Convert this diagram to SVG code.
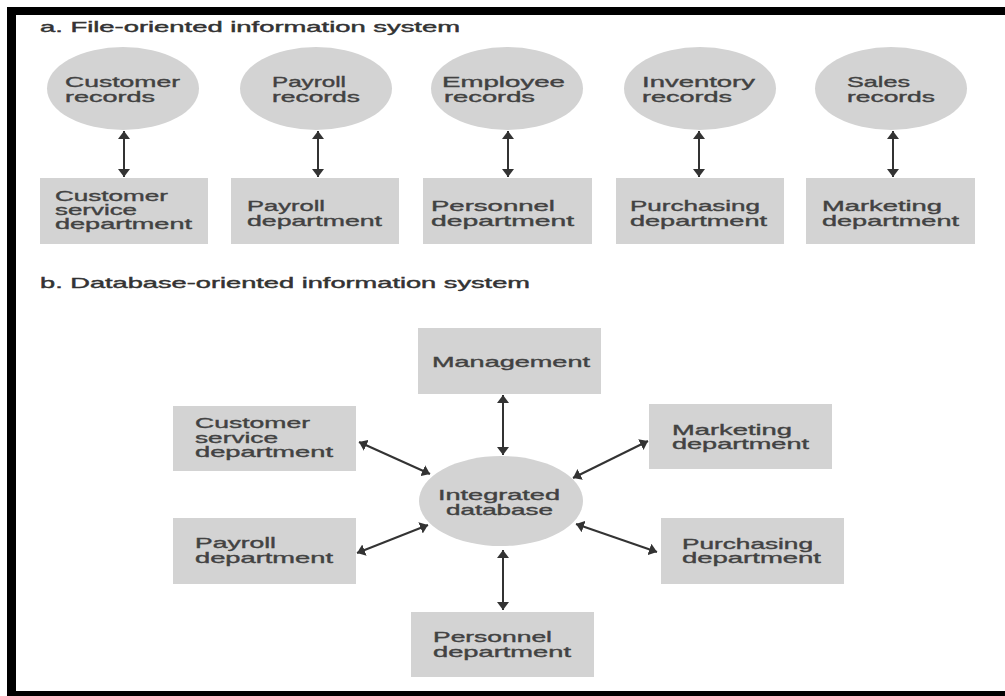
<svg xmlns="http://www.w3.org/2000/svg" width="1005" height="696" viewBox="0 0 1005 696">
<style>
.shape{fill:#d3d3d3;stroke:none}
.t{font-family:"Liberation Sans",Arial,sans-serif;font-size:14.5px;fill:#424242;stroke:#424242;stroke-width:0.35}
.title{font-family:"Liberation Sans",Arial,sans-serif;font-size:14.5px;fill:#333;stroke:#333;stroke-width:0.4}
.conn{stroke:#333;stroke-width:2;fill:none;marker-start:url(#ah);marker-end:url(#ah)}
</style>
<defs>
<marker id="ah" viewBox="0 0 8 12" refX="8" refY="6" markerWidth="8" markerHeight="12" markerUnits="userSpaceOnUse" orient="auto-start-reverse">
<path d="M0,0 L8,6 L0,12 z" fill="#333"/>
</marker>
</defs>
<rect x="0" y="0" width="1005" height="696" fill="#fff"/>
<g id="frame" fill="#000">
<rect x="7" y="7" width="9" height="689"/>
<rect x="7" y="7" width="998" height="8"/>
<rect x="7" y="691" width="998" height="5"/>
</g>
<text class="title" x="40" y="32" textLength="420" lengthAdjust="spacingAndGlyphs">a. File-oriented information system</text>
<text class="title" x="40" y="288" textLength="490" lengthAdjust="spacingAndGlyphs">b. Database-oriented information system</text>

<g id="customer-records"><ellipse class="shape" cx="123" cy="88.5" rx="76" ry="41.5"/>
<text class="t" x="65" y="87" textLength="115" lengthAdjust="spacingAndGlyphs">Customer</text>
<text class="t" x="65" y="101.5" textLength="90" lengthAdjust="spacingAndGlyphs">records</text></g>
<g id="payroll-records"><ellipse class="shape" cx="316" cy="88.5" rx="76" ry="41.5"/>
<text class="t" x="272" y="87" textLength="74" lengthAdjust="spacingAndGlyphs">Payroll</text>
<text class="t" x="272" y="101.5" textLength="88" lengthAdjust="spacingAndGlyphs">records</text></g>
<g id="employee-records"><ellipse class="shape" cx="507" cy="88.5" rx="76" ry="41.5"/>
<text class="t" x="442" y="87" textLength="123" lengthAdjust="spacingAndGlyphs">Employee</text>
<text class="t" x="444" y="101.5" textLength="91" lengthAdjust="spacingAndGlyphs">records</text></g>
<g id="inventory-records"><ellipse class="shape" cx="700" cy="88.5" rx="76" ry="41.5"/>
<text class="t" x="642" y="87" textLength="113" lengthAdjust="spacingAndGlyphs">Inventory</text>
<text class="t" x="642" y="101.5" textLength="90" lengthAdjust="spacingAndGlyphs">records</text></g>
<g id="sales-records"><ellipse class="shape" cx="891" cy="88.5" rx="76" ry="41.5"/>
<text class="t" x="847" y="87" textLength="63" lengthAdjust="spacingAndGlyphs">Sales</text>
<text class="t" x="847" y="101.5" textLength="88" lengthAdjust="spacingAndGlyphs">records</text></g>

<g id="customer-service-dept-a"><rect class="shape" x="40" y="178" width="168" height="66"/>
<text class="t" x="55" y="201" textLength="113" lengthAdjust="spacingAndGlyphs">Customer</text>
<text class="t" x="55" y="215" textLength="82" lengthAdjust="spacingAndGlyphs">service</text>
<text class="t" x="55" y="229.3" textLength="137" lengthAdjust="spacingAndGlyphs">department</text></g>
<g id="payroll-dept-a"><rect class="shape" x="231" y="178" width="168" height="66"/>
<text class="t" x="247" y="211" textLength="78" lengthAdjust="spacingAndGlyphs">Payroll</text>
<text class="t" x="247" y="226" textLength="135" lengthAdjust="spacingAndGlyphs">department</text></g>
<g id="personnel-dept-a"><rect class="shape" x="423" y="178" width="169" height="66"/>
<text class="t" x="431" y="211" textLength="124" lengthAdjust="spacingAndGlyphs">Personnel</text>
<text class="t" x="431" y="226" textLength="143" lengthAdjust="spacingAndGlyphs">department</text></g>
<g id="purchasing-dept-a"><rect class="shape" x="616" y="178" width="168" height="66"/>
<text class="t" x="630" y="211" textLength="130" lengthAdjust="spacingAndGlyphs">Purchasing</text>
<text class="t" x="630" y="226" textLength="137" lengthAdjust="spacingAndGlyphs">department</text></g>
<g id="marketing-dept-a"><rect class="shape" x="806" y="178" width="169" height="66"/>
<text class="t" x="822" y="211" textLength="120" lengthAdjust="spacingAndGlyphs">Marketing</text>
<text class="t" x="822" y="226" textLength="137" lengthAdjust="spacingAndGlyphs">department</text></g>

<g id="management"><rect class="shape" x="418" y="328" width="183" height="66"/>
<text class="t" x="432" y="366.7" textLength="158" lengthAdjust="spacingAndGlyphs">Management</text></g>
<g id="customer-service-dept-b"><rect class="shape" x="173" y="406" width="183" height="65"/>
<text class="t" x="195" y="428" textLength="115" lengthAdjust="spacingAndGlyphs">Customer</text>
<text class="t" x="195" y="442.5" textLength="83" lengthAdjust="spacingAndGlyphs">service</text>
<text class="t" x="195" y="456.7" textLength="138" lengthAdjust="spacingAndGlyphs">department</text></g>
<g id="marketing-dept-b"><rect class="shape" x="649" y="404" width="183" height="65"/>
<text class="t" x="672" y="435" textLength="120" lengthAdjust="spacingAndGlyphs">Marketing</text>
<text class="t" x="672" y="449.3" textLength="137" lengthAdjust="spacingAndGlyphs">department</text></g>
<g id="integrated-database"><ellipse class="shape" cx="501" cy="501" rx="82" ry="45"/>
<text class="t" x="438" y="500" textLength="122" lengthAdjust="spacingAndGlyphs">Integrated</text>
<text class="t" x="446" y="515" textLength="107" lengthAdjust="spacingAndGlyphs">database</text></g>
<g id="payroll-dept-b"><rect class="shape" x="173" y="518" width="183" height="66"/>
<text class="t" x="195" y="548.3" textLength="81" lengthAdjust="spacingAndGlyphs">Payroll</text>
<text class="t" x="195" y="562.7" textLength="138" lengthAdjust="spacingAndGlyphs">department</text></g>
<g id="purchasing-dept-b"><rect class="shape" x="661" y="518" width="183" height="66"/>
<text class="t" x="682" y="549" textLength="131" lengthAdjust="spacingAndGlyphs">Purchasing</text>
<text class="t" x="682" y="563.3" textLength="139" lengthAdjust="spacingAndGlyphs">department</text></g>
<g id="personnel-dept-b"><rect class="shape" x="411" y="612" width="183" height="65"/>
<text class="t" x="433" y="642.3" textLength="119" lengthAdjust="spacingAndGlyphs">Personnel</text>
<text class="t" x="433" y="656.7" textLength="138" lengthAdjust="spacingAndGlyphs">department</text></g>

<g id="connectors">
<line class="conn" x1="124" y1="131" x2="124" y2="177"/>
<line class="conn" x1="318" y1="131" x2="318" y2="177"/>
<line class="conn" x1="508" y1="131" x2="508" y2="177"/>
<line class="conn" x1="699" y1="131" x2="699" y2="177"/>
<line class="conn" x1="893" y1="131" x2="893" y2="177"/>
<line class="conn" x1="503" y1="395" x2="503" y2="455"/>
<line class="conn" x1="503" y1="550" x2="503" y2="610"/>
<line class="conn" x1="359" y1="442" x2="430" y2="474"/>
<line class="conn" x1="357" y1="553" x2="428" y2="525"/>
<line class="conn" x1="648" y1="441" x2="573" y2="478"/>
<line class="conn" x1="576" y1="524" x2="657" y2="552"/>
</g>
</svg>
